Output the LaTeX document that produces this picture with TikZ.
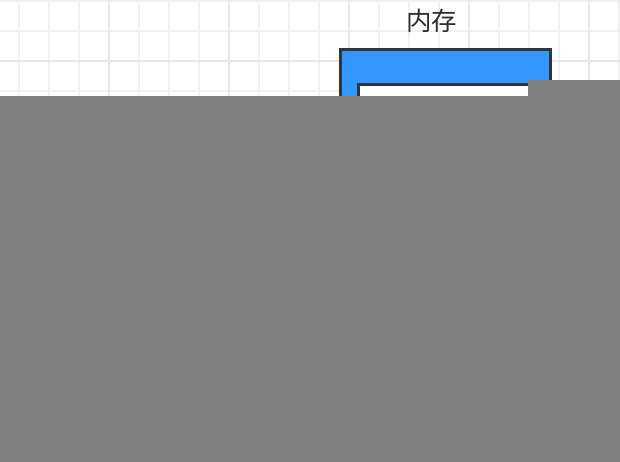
\documentclass[tikz,border=0pt]{standalone}
\usepackage{fontspec}
\newfontfamily\cjk{Noto Sans CJK SC}
\definecolor{gridminor}{HTML}{F1F1F1}
\definecolor{gridmajor}{HTML}{E6E6E6}
\definecolor{boxblue}{HTML}{3399FF}
\definecolor{boxedge}{HTML}{2E3440}
\definecolor{cover}{HTML}{808080}
\begin{document}
\begin{tikzpicture}[x=1pt,y=-1pt,
  minorline/.style={draw=gridminor,line width=1.2pt},
  majorline/.style={draw=gridmajor,line width=1.4pt},
  membox/.style={draw=boxedge,line width=3pt,fill=boxblue},
  innerbox/.style={draw=boxedge,line width=3pt,fill=white},
  coverbox/.style={fill=cover,draw=none}]
\useasboundingbox (0,0) rectangle (620,462);
\fill[white] (0,0) rectangle (620,462);
\foreach \x in {19,49,...,619} {\draw[minorline] (\x,0) -- (\x,462);}
\foreach \y in {1,31,...,461} {\draw[minorline] (0,\y) -- (620,\y);}
\foreach \x in {109,229,349,469,589} {\draw[majorline] (\x,0) -- (\x,462);}
\foreach \y in {61,181,301,421} {\draw[majorline] (0,\y) -- (620,\y);}
\node[font=\cjk\fontsize{25.5}{28}\selectfont, text=black!82, inner sep=0pt] (label) at (431.5,21) {内存};
\path[membox] (340,50) rectangle (550,200);
\path[innerbox] (358,85) rectangle (533,190);
\path[coverbox] (0,96) rectangle (620,462);
\path[coverbox] (528,80) rectangle (620,97);
\end{tikzpicture}
\end{document}
